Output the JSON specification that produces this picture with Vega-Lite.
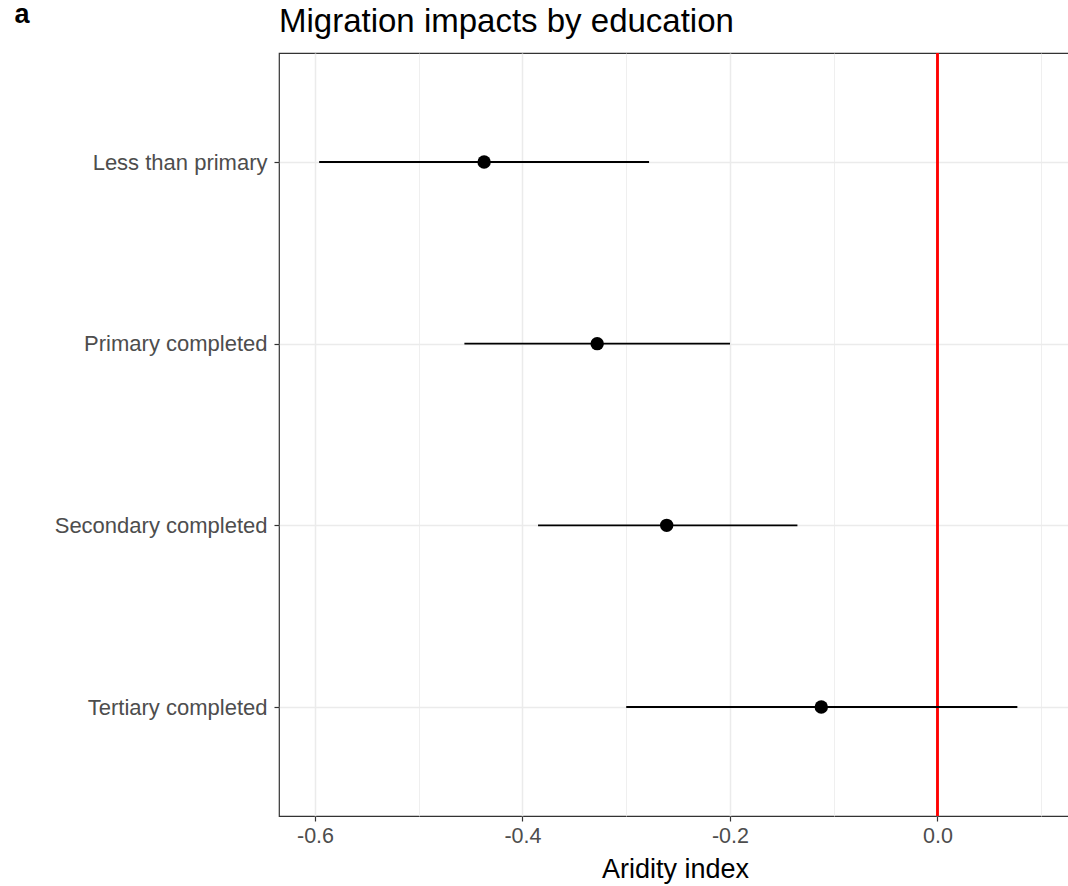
{
  "$schema": "https://vega.github.io/schema/vega-lite/v6.json",
  "autosize": "none",
  "width": 792,
  "height": 763,
  "padding": {"left": 279, "top": 53, "right": 0, "bottom": 70},
  "background": "white",
  "config": {
    "font": "Liberation Sans",
    "view": {"stroke": "#333333", "strokeWidth": 1.2}
  },
  "title": {
    "text": "Migration impacts by education",
    "anchor": "start",
    "frame": "group",
    "fontSize": 33,
    "fontWeight": "normal",
    "color": "#000000",
    "font": "Liberation Sans",
    "baseline": "top",
    "offset": 14,
    "dy": 53
  },
  "data": {
    "values": [
      {"education": "Less than primary", "estimate": -0.437, "lower": -0.596, "upper": -0.278},
      {"education": "Primary completed", "estimate": -0.328, "lower": -0.456, "upper": -0.2},
      {"education": "Secondary completed", "estimate": -0.261, "lower": -0.385, "upper": -0.135},
      {"education": "Tertiary completed", "estimate": -0.112, "lower": -0.3, "upper": 0.077}
    ]
  },
  "encoding": {
    "y": {
      "field": "education",
      "type": "nominal",
      "sort": ["Less than primary", "Primary completed", "Secondary completed", "Tertiary completed"],
      "scale": {"type": "point", "padding": 0.6},
      "axis": {
        "title": "a",
        "titleAngle": 0,
        "titleFontSize": 27,
        "titleFontWeight": "bold",
        "titleColor": "#000000",
        "titleAlign": "left",
        "titleBaseline": "alphabetic",
        "titleX": -265,
        "titleY": -31,
        "domain": false,
        "grid": true,
        "gridColor": "#ebebeb",
        "gridWidth": 1.5,
        "ticks": true,
        "tickColor": "#333333",
        "tickSize": 5,
        "tickWidth": 1.2,
        "labelFontSize": 22,
        "labelColor": "#4d4d4d",
        "labelPadding": 7,
        "labelLimit": 300,
        "labelFont": "Liberation Sans"
      }
    }
  },
  "layer": [
    {
      "mark": {"type": "rule", "color": "#ff0000", "strokeWidth": 2},
      "encoding": {"x": {"datum": 0, "type": "quantitative"}, "y": null}
    },
    {
      "mark": {"type": "rule", "color": "#000000", "strokeWidth": 1.8},
      "encoding": {
        "x": {
          "field": "lower",
          "type": "quantitative",
          "scale": {"domain": [-0.6347, 0.1287], "nice": false, "zero": false},
          "axis": {
            "title": "Aridity index",
            "titleFontSize": 27,
            "titleFontWeight": "normal",
            "titleColor": "#000000",
            "titlePadding": 10,
            "values": [-0.6, -0.5, -0.4, -0.3, -0.2, -0.1, 0, 0.1],
            "labelExpr": "round(datum.value*10) % 2 == 0 ? replace(format(datum.value, '.1f'), '\u2212', '-') : ''",
            "domain": false,
            "grid": true,
            "gridColor": "#ebebeb",
            "gridWidth": {"condition": {"test": "round(datum.value*10) % 2 == 0", "value": 1.5}, "value": 0.8},
            "ticks": true,
            "tickColor": "#333333",
            "tickSize": 5,
            "tickWidth": 1.2,
            "tickOpacity": {"condition": {"test": "round(datum.value*10) % 2 == 0", "value": 1}, "value": 0},
            "labelFontSize": 21.5,
            "labelColor": "#4d4d4d",
            "labelPadding": 4,
            "labelFont": "Liberation Sans"
          }
        },
        "x2": {"field": "upper"}
      }
    },
    {
      "mark": {"type": "point", "filled": true, "color": "#000000", "opacity": 1, "size": 180},
      "encoding": {"x": {"field": "estimate", "type": "quantitative"}}
    }
  ]
}
